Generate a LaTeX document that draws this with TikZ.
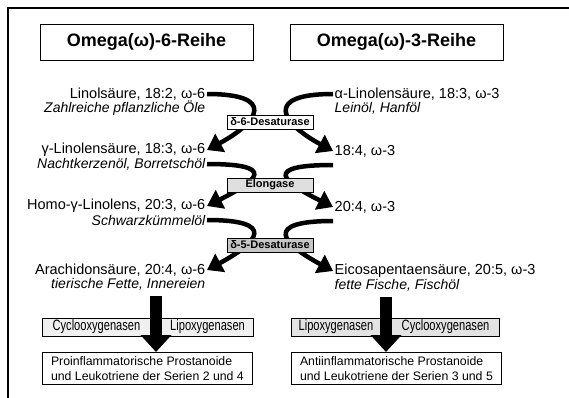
\documentclass[tikz,border=0pt]{standalone}
\usepackage{fontspec}
\setmainfont{Liberation Sans}
\setsansfont{Liberation Sans}
\newfontfamily\condfont[FakeStretch=0.74]{Liberation Sans}
\usepackage{tikz}
\usetikzlibrary{arrows.meta,positioning,calc}
\tikzset{
  base/.style={font=\fontsize{14.5}{17}\selectfont, inner sep=1.5pt},
  src/.style={inner sep=1.5pt, font=\fontsize{14}{16}\selectfont\itshape},
  head/.style={rectangle, draw, line width=0.8pt, minimum width=213pt, minimum height=36pt, font=\fontsize{18}{20}\selectfont\bfseries},
  enz/.style={rectangle, draw, line width=0.9pt, fill=#1, minimum width=86pt, minimum height=14pt, inner sep=1pt, font=\fontsize{11}{13}\selectfont\bfseries},
  way/.style={rectangle, draw, line width=0.9pt, fill=#1, minimum height=18pt, inner sep=2pt, font=\fontsize{15}{16}\selectfont\condfont},
  prod/.style={rectangle, draw, line width=0.9pt, fill=white, minimum width=210pt, inner xsep=5pt, inner ysep=2pt, minimum height=32pt, align=left, font=\fontsize{12.3}{15}\selectfont},
  curvl/.style={line width=4.5pt, -{Triangle[length=15pt,width=20pt]}},
  bigarr/.style={line width=12pt, -{Triangle[length=17pt,width=30pt]}},
}

\begin{document}
\begin{tikzpicture}[x=1pt,y=-1pt]
  \useasboundingbox (0,0) rectangle (569,398);
  % frame
  \draw[line width=2.5pt] (8,398) -- (8,8) -- (569,8);
  % column headers
  \node[head] (h6) at (146.5,42) {Omega(ω)-6-Reihe};
  \node[head] (h3) at (396.5,42) {Omega(ω)-3-Reihe};
  % omega-6 side
  \node[base,anchor=east] (lino)     at (207,94)  {Linolsäure, 18:2, ω-6};
  \node[src,anchor=east]  (linosrc)  at (207,108) {Zahlreiche pflanzliche Öle};
  \node[base,anchor=east] (glin)     at (207,150) {γ-Linolensäure, 18:3, ω-6};
  \node[src,anchor=east]  (glinsrc)  at (207,164) {Nachtkerzenöl, Borretschöl};
  \node[base,anchor=east] (hglin)    at (207,206) {Homo-γ-Linolens, 20:3, ω-6};
  \node[src,anchor=east]  (hglinsrc) at (207,220) {Schwarzkümmelöl};
  \node[base,anchor=east] (arach)    at (207,270) {Arachidonsäure, 20:4, ω-6};
  \node[src,anchor=east]  (arachsrc) at (207,284) {tierische Fette, Innereien};
  % omega-3 side
  \node[base,anchor=west] (alin)    at (333,94)  {α-Linolensäure, 18:3, ω-3};
  \node[src,anchor=west]  (alinsrc) at (333,108) {Leinöl, Hanföl};
  \node[base,anchor=west] (sda)     at (333,151) {18:4, ω-3};
  \node[base,anchor=west] (eta)     at (333,207) {20:4, ω-3};
  \node[base,anchor=west] (epa)     at (333,271) {Eicosapentaensäure, 20:5, ω-3};
  \node[src,anchor=west]  (epasrc)  at (333,285) {fette Fische, Fischöl};
  \coordinate (sdaout) at (333,165);
  \coordinate (etaout) at (333,221);
  % conversion steps
  \draw[curvl] (lino.east) .. controls +(70,0) and +(52,-28) .. (glin.east);
  \draw[curvl] (glinsrc.east) .. controls +(70,0) and +(52,-26) .. (hglin.east);
  \draw[curvl] (hglinsrc.east) .. controls +(70,0) and +(52,-28) .. (arach.east);
  \draw[curvl] (alin.west) .. controls +(-70,0) and +(-52,-28) .. (sda.west);
  \draw[curvl] (sdaout) .. controls +(-70,0) and +(-52,-26) .. (eta.west);
  \draw[curvl] (etaout) .. controls +(-70,0) and +(-52,-28) .. (epa.west);
  \node[enz=white]   (d6)  at (270,122) {δ-6-Desaturase};
  \node[enz=gray!25] (elo) at (270,185) {Elongase};
  \node[enz=gray!45] (d5)  at (270,245) {δ-5-Desaturase};
  % eicosanoid pathways
  \node[way=gray!12,anchor=west,minimum width=108pt] (lcox) at (42,327)  {Cyclooxygenasen};
  \node[way=gray!12,anchor=east,minimum width=92pt]  (llox) at (254,327) {Lipoxygenasen};
  \node[way=gray!22,anchor=west,minimum width=89pt]  (rlox) at (291,327) {Lipoxygenasen};
  \node[way=gray!22,anchor=east,minimum width=108pt] (rcox) at (500,327) {Cyclooxygenasen};
  \node[prod,anchor=north west] (lprod) at (42,352)  {Proinflammatorische Prostanoide\\und Leukotriene der Serien 2 und 4};
  \node[prod,anchor=north west] (rprod) at (291,352) {Antiinflammatorische Prostanoide\\und Leukotriene der Serien 3 und 5};
  \coordinate (lsplit) at (156,296);
  \coordinate (rsplit) at (386,297);
  \draw[bigarr] (lsplit) -- (lsplit |- lprod.north);
  \draw[bigarr] (rsplit) -- (rsplit |- rprod.north);
\end{tikzpicture}
\end{document}
